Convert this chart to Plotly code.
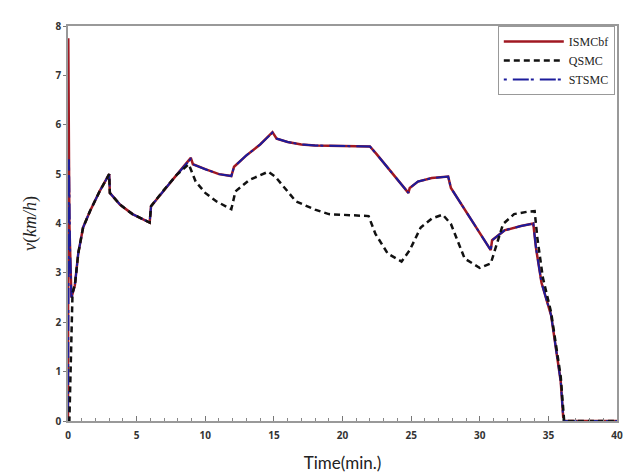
import plotly.graph_objects as go

# ISMCbf
t_ismc = [0, 0.02, 0.1, 0.25, 0.5, 0.75, 1.1, 1.6, 2.3, 3.0, 3.05, 3.8, 4.7, 5.95, 6.05, 6.9, 7.9,
          8.95, 9.1, 10, 11, 11.9, 12.1, 13, 14, 14.9, 15.2, 16, 17, 18, 22, 22.5, 24.8, 24.9,
          25.5, 26.5, 27.7, 27.9, 30.8, 30.9, 31.8, 33, 33.9, 34.1, 34.5, 35.2, 35.9, 36.1, 40]
v_ismc = [0, 7.75, 4.0, 2.5, 2.75, 3.4, 3.92, 4.25, 4.65, 5.0, 4.62, 4.38, 4.19, 4.02, 4.35, 4.65, 4.98,
          5.33, 5.2, 5.1, 5.0, 4.96, 5.15, 5.38, 5.6, 5.85, 5.72, 5.65, 5.6, 5.58, 5.56, 5.4, 4.62, 4.72,
          4.85, 4.92, 4.95, 4.72, 3.46, 3.66, 3.86, 3.95, 4.0, 3.5, 2.8, 2.14, 0.8, 0, 0]

# STSMC
t_stsmc = [0, 0.07, 0.15, 0.25, 0.5, 0.75, 1.1, 1.6, 2.3, 3.0, 3.05, 3.8, 4.7, 5.95, 6.05, 6.9, 7.9,
           8.95, 9.1, 10, 11, 11.9, 12.1, 13, 14, 14.9, 15.2, 16, 17, 18, 22, 22.5, 24.8, 24.9,
           25.5, 26.5, 27.7, 27.9, 30.8, 30.9, 31.8, 33, 33.9, 34.1, 34.5, 35.2, 35.9, 36.1, 40]
v_stsmc = [0, 5.3, 3.5, 2.5, 2.75, 3.4, 3.92, 4.25, 4.65, 5.0, 4.62, 4.38, 4.19, 4.02, 4.35, 4.65, 4.98,
           5.31, 5.2, 5.1, 5.0, 4.96, 5.15, 5.38, 5.6, 5.84, 5.72, 5.65, 5.6, 5.58, 5.56, 5.4, 4.62, 4.72,
           4.85, 4.92, 4.95, 4.72, 3.46, 3.66, 3.86, 3.95, 4.0, 3.5, 2.8, 2.14, 0.8, 0, 0]

# QSMC
t_qsmc = [0, 0.1, 0.33, 0.5, 0.75, 1.1, 1.6, 2.3, 3.0, 3.05, 3.8, 4.7, 5.95, 6.05, 6.9, 7.9, 8.8, 9.3,
          10, 10.8, 11.9, 12.2, 13.2, 14, 14.6, 15.1, 16.6, 18, 19, 21.9, 22.4, 23.3, 24.3, 24.9,
          25.7, 26.5, 27.3, 27.9, 28.9, 30, 30.8, 31.7, 32.5, 33.5, 34, 34.2, 34.6, 35.2, 35.9, 36.15, 40]
v_qsmc = [0, 0, 2.6, 2.75, 3.4, 3.92, 4.25, 4.65, 5.0, 4.62, 4.38, 4.19, 4.02, 4.35, 4.65, 4.98, 5.2, 4.85,
          4.62, 4.45, 4.29, 4.65, 4.88, 4.98, 5.05, 4.95, 4.45, 4.28, 4.19, 4.15, 3.79, 3.39, 3.23, 3.46,
          3.92, 4.1, 4.18, 3.99, 3.29, 3.1, 3.19, 3.99, 4.19, 4.24, 4.25, 3.7, 2.9, 2.2, 0.9, 0, 0]

x_ticks = [0, 5, 10, 15, 20, 25, 30, 35, 40]
y_ticks = [0, 1, 2, 3, 4, 5, 6, 7, 8]

fig = go.Figure()
fig.add_trace(go.Scatter(x=t_ismc, y=v_ismc, mode="lines", name="ISMCbf", legendrank=1,
                         line=dict(color="#a01822", width=2.5)))
fig.add_trace(go.Scatter(x=t_stsmc, y=v_stsmc, mode="lines", name="STSMC", legendrank=3,
                         line=dict(color="#1c1c9c", width=2, dash="3px,6px,16px,2px")))
fig.add_trace(go.Scatter(x=t_qsmc, y=v_qsmc, mode="lines", name="QSMC", legendrank=2,
                         line=dict(color="#111111", width=2.5, dash="6px,4px")))

fig.update_layout(
    width=633, height=476,
    margin=dict(l=60, r=24, t=10, b=63),
    paper_bgcolor="white", plot_bgcolor="white",
    showlegend=True,
    legend=dict(x=0.996, y=1.0, xanchor="right", yanchor="top",
                bordercolor="#999999", borderwidth=1, bgcolor="white",
                font=dict(family="Liberation Serif", size=12, color="#222222"),
                traceorder="normal", itemwidth=60),
    xaxis=dict(range=[0, 40], tickvals=x_ticks, ticktext=[str(v) for v in x_ticks],
               showgrid=False, zeroline=False, showline=True, linecolor="#999999", linewidth=1.5,
               mirror=True, ticks="inside", ticklen=5, tickcolor="#777777",
               minor=dict(dtick=1, ticks="inside", ticklen=3, tickcolor="#888888"),
               ticklabelstandoff=4,
               tickfont=dict(family="Open Sans", size=10, color="#333333", weight="bold"),
               title=dict(text="Time(min.)", font=dict(family="Lato", size=17, color="#222222"),
                          standoff=16)),
    yaxis=dict(range=[0, 8], tickvals=y_ticks, ticktext=[str(v) for v in y_ticks],
               showgrid=False, zeroline=False, showline=True, linecolor="#999999", linewidth=1.5,
               mirror=True, ticks="outside", ticklen=3, tickcolor="#777777",
               tickfont=dict(family="Open Sans", size=10, color="#333333", weight="bold"),
               title=dict(text="<i>v</i>(<i>km/h</i>)",
                          font=dict(family="Liberation Serif", size=18, color="#222222"),
                          standoff=14)),
)

fig.write_html("out.html")
